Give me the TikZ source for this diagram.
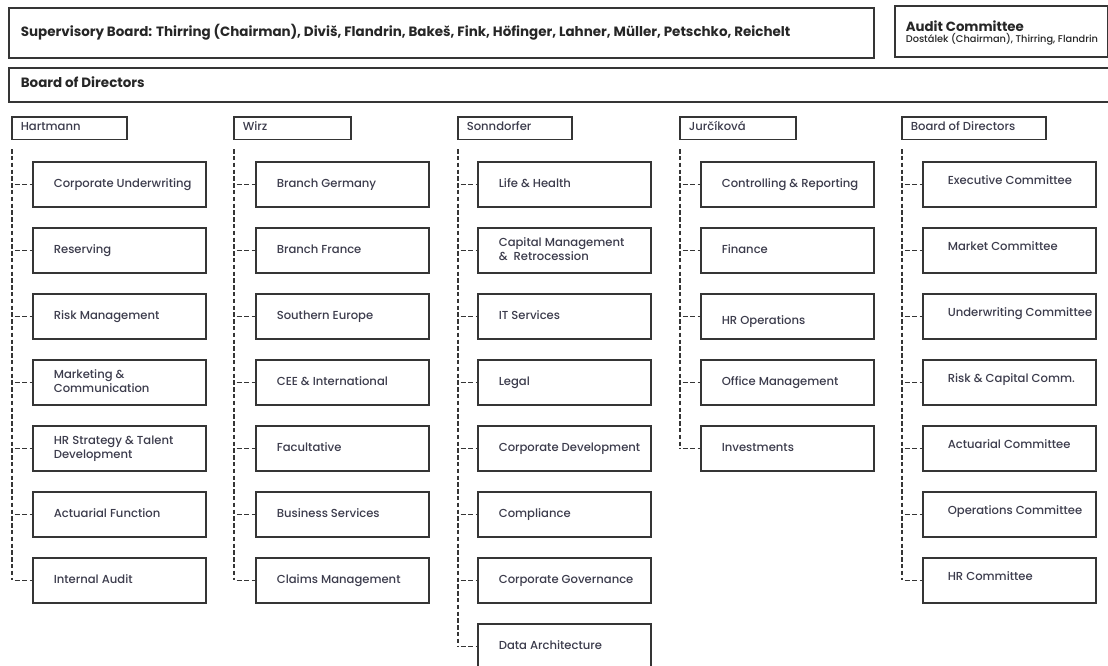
\documentclass[tikz,border=0pt]{standalone}
\usepackage{fontspec}
\setmainfont{Poppins}[UprightFont=* Medium, BoldFont=* Bold]
\usetikzlibrary{calc}
\definecolor{linegray}{HTML}{353535}
\definecolor{textgray}{HTML}{3C3C4C}
\newcommand\boxtext[3]{\makebox[#1][l]{\hspace*{#2}\begin{tabular}{@{}l@{}}#3\end{tabular}}}
\newcommand\ut[1]{\boxtext{129.75pt}{15.75pt}{#1}}
\newcommand\ct[1]{\boxtext{129.75pt}{18.75pt}{\raisebox{1.9pt}[\height][\depth]{#1}}}
\tikzset{
  unit/.style={draw=linegray, line width=1.2pt, inner sep=0pt, anchor=north west,
    minimum height=34pt, text=textgray, font=\fontsize{8.7}{10.9}\selectfont},
  head/.style={unit, minimum height=16.9pt},
  topbox/.style={draw=linegray, line width=1.2pt, inner sep=0pt, anchor=north west,
    text=black!85, font=\fontsize{10.1}{11}\selectfont\bfseries},
  dashline/.style={draw=linegray, line width=0.9pt, dash pattern=on 3.3pt off 1.8pt},
  stubline/.style={dashline, dash pattern=on 3.75pt off 1.9pt, dash phase=3.75pt},
}
\begin{document}
\begin{tikzpicture}[x=0.75pt, y=-0.75pt]
  \useasboundingbox (0,0) rectangle (1108,666);
  %%%%% TOP %%%%%
  \node[topbox, minimum width=648.75pt, minimum height=37.5pt] (supervisory) at (8,7)
    {\boxtext{648.75pt}{9pt}{Supervisory Board: Thirring (Chairman), Diviš, Flandrin, Bakeš, Fink, Höfinger, Lahner, Müller, Petschko, Reichelt}};
  \node[topbox, minimum width=159.75pt, minimum height=38.25pt] (audit) at (894,5)
    {\makebox[159.75pt][l]{\hspace*{8.25pt}\raisebox{-1.8pt}[\height][\depth]{\begin{tabular}{@{}l@{}}{\fontsize{10}{9}\selectfont Audit Committee}\\[-3.2pt]{\fontsize{7.35}{7}\selectfont\mdseries Dostálek (Chairman), Thirring, Flandrin}\end{tabular}}}};
  \node[topbox, minimum width=828pt, minimum height=25.5pt] (board) at (8,67)
    {\boxtext{828pt}{9pt}{Board of Directors}};
  %%%%% HEADS %%%%%
  \node[head, minimum width=86.25pt] (h1) at (11,116) {\boxtext{86.25pt}{6.75pt}{Hartmann}};
  \node[head, minimum width=87.75pt] (h2) at (233,116) {\boxtext{87.75pt}{6.75pt}{Wirz}};
  \node[head, minimum width=85.5pt] (h3) at (457,116) {\boxtext{85.5pt}{6.75pt}{Sonndorfer}};
  \node[head, minimum width=87pt] (h4) at (679,116) {\boxtext{87pt}{6.75pt}{Jurčíková}};
  \node[head, minimum width=108pt] (h5) at (901,116) {\boxtext{108pt}{6.75pt}{Board of Directors}};
  %%%%% HARTMANN %%%%%
  \node[unit] (c1-1) at (32,161) {\ut{Corporate Underwriting}};
  \node[unit] (c1-2) at (32,227) {\ut{Reserving}};
  \node[unit] (c1-3) at (32,293) {\ut{Risk Management}};
  \node[unit] (c1-4) at (32,359) {\ut{Marketing \&\\Communication}};
  \node[unit] (c1-5) at (32,425) {\ut{HR Strategy \& Talent\\Development}};
  \node[unit] (c1-6) at (32,491) {\ut{Actuarial Function}};
  \node[unit] (c1-7) at (32,557) {\ut{Internal Audit}};
  %%%%% WIRZ %%%%%
  \node[unit] (c2-1) at (255,161) {\ut{Branch Germany}};
  \node[unit] (c2-2) at (255,227) {\ut{Branch France}};
  \node[unit] (c2-3) at (255,293) {\ut{Southern Europe}};
  \node[unit] (c2-4) at (255,359) {\ut{CEE \& International}};
  \node[unit] (c2-5) at (255,425) {\ut{Facultative}};
  \node[unit] (c2-6) at (255,491) {\ut{Business Services}};
  \node[unit] (c2-7) at (255,557) {\ut{Claims Management}};
  %%%%% SONNDORFER %%%%%
  \node[unit] (c3-1) at (477,161) {\ut{Life \& Health}};
  \node[unit] (c3-2) at (477,227) {\ut{Capital Management\\\&~ Retrocession}};
  \node[unit] (c3-3) at (477,293) {\ut{IT Services}};
  \node[unit] (c3-4) at (477,359) {\ut{Legal}};
  \node[unit] (c3-5) at (477,425) {\ut{Corporate Development}};
  \node[unit] (c3-6) at (477,491) {\ut{Compliance}};
  \node[unit] (c3-7) at (477,557) {\ut{Corporate Governance}};
  \node[unit] (c3-8) at (477,623) {\ut{Data Architecture}};
  %%%%% JURCIKOVA %%%%%
  \node[unit] (c4-1) at (700,161) {\ut{Controlling \& Reporting}};
  \node[unit] (c4-2) at (700,227) {\ut{Finance}};
  \node[unit] (c4-3) at (700,293) {\ut{\raisebox{-3.75pt}[\height][\depth]{HR Operations}}};
  \node[unit] (c4-4) at (700,359) {\ut{Office Management}};
  \node[unit] (c4-5) at (700,425) {\ut{Investments}};
  %%%%% COMMITTEES %%%%%
  \node[unit] (c5-1) at (922,161) {\ct{Executive Committee}};
  \node[unit] (c5-2) at (922,227) {\ct{Market Committee}};
  \node[unit] (c5-3) at (922,293) {\ct{Underwriting Committee}};
  \node[unit] (c5-4) at (922,359) {\ct{Risk \& Capital Comm.}};
  \node[unit] (c5-5) at (922,425) {\ct{Actuarial Committee}};
  \node[unit] (c5-6) at (922,491) {\ct{Operations Committee}};
  \node[unit] (c5-7) at (922,557) {\ct{HR Committee}};
  %%%%% LINES %%%%%
  \foreach \c/\n in {1/7, 2/7, 3/8, 4/5, 5/7} {
    \coordinate (t\c) at ($(h\c.south west)+(1,9)$);
    \draw[dashline] (t\c) -- (t\c |- c\c-\n.west);
    \draw[stubline] (t\c |- c\c-\n.west) -- (c\c-\n.west);
  }
  \foreach \c/\n in {1/6, 2/6, 3/7, 4/4, 5/6}
    \foreach \r in {1,...,\n}
      \draw[stubline] (c\c-\r.west -| t\c) -- (c\c-\r.west);
\end{tikzpicture}
\end{document}
